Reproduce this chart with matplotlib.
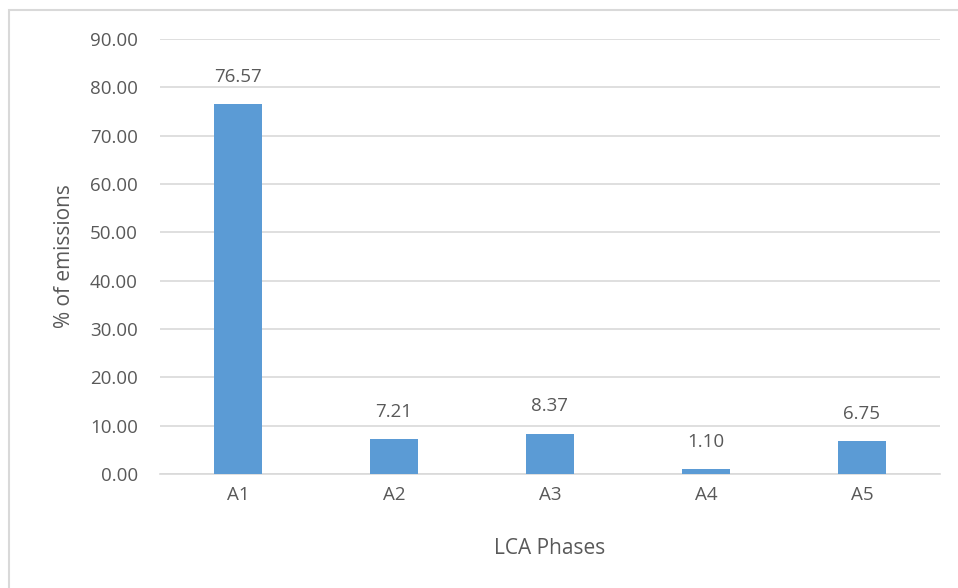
import matplotlib
matplotlib.use("Agg")
import matplotlib.pyplot as plt
from matplotlib.patches import Rectangle

phases = ["A1", "A2", "A3", "A4", "A5"]
emissions = [76.57, 7.21, 8.37, 1.10, 6.75]
y_ticks = [0, 10, 20, 30, 40, 50, 60, 70, 80, 90]

plt.rcParams['font.family'] = ['Open Sans', 'DejaVu Sans']
text_color = "#595959"
grid_color = "#d9d9d9"
bar_color = "#5b9bd5"

fig = plt.figure(figsize=(9.58, 5.88), dpi=100)
ax = fig.add_axes([160 / 958, 1 - 474 / 588, 780 / 958, (474 - 39) / 588])

# chart-area frame (continues past the right and bottom edges)
fig.patches.append(Rectangle((9 / 958, -0.05), 1.2, 1 - 10 / 588 + 0.05,
                             transform=fig.transFigure, fill=False,
                             edgecolor=grid_color, linewidth=1.5))

x = range(len(phases))
bars = ax.bar(x, emissions, width=0.31, color=bar_color, zorder=3)
for xi, v in zip(x, emissions):
    ax.annotate(f"{v:.2f}", (xi, v), xytext=(0, 13), textcoords="offset points",
                ha="center", va="bottom", fontsize=13.5, color=text_color)

ax.set_xlim(-0.5, len(phases) - 0.5)
ax.set_ylim(0, 90)
ax.set_yticks(y_ticks)
ax.set_yticklabels([f"{t:.2f}" for t in y_ticks])
ax.set_xticks(list(x))
ax.set_xticklabels(phases)
ax.tick_params(axis="both", length=0, labelsize=13.5, labelcolor=text_color)
ax.tick_params(axis="y", pad=16)
ax.tick_params(axis="x", pad=9)
ax.yaxis.grid(True, color=grid_color, linewidth=1.2, zorder=0)
for s in ["top", "right", "left"]:
    ax.spines[s].set_visible(False)
ax.spines["bottom"].set_color(grid_color)
ax.spines["bottom"].set_linewidth(1.2)

ax.set_ylabel("% of emissions", fontsize=15, color=text_color, labelpad=11)
ax.set_xlabel("LCA Phases", fontsize=15, color=text_color, labelpad=24)

fig.savefig("out.png", dpi=100)
